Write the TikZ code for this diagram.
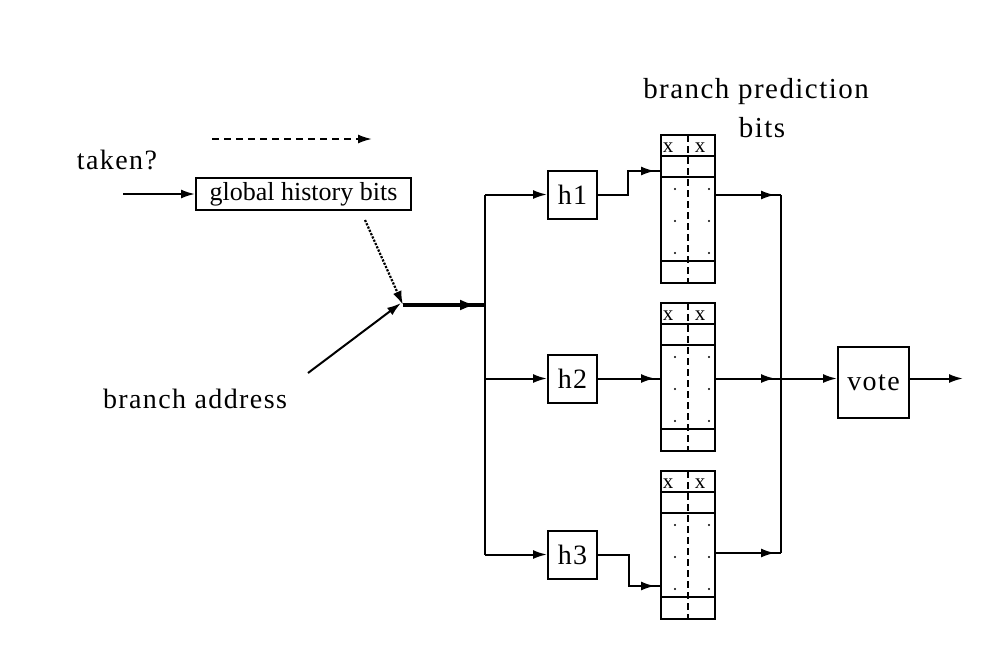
\documentclass[tikz,border=0pt]{standalone}
\usepackage{fontspec}
\setmainfont{Liberation Serif}
\newfontfamily\wide[LetterSpace=5]{Liberation Serif}
\usetikzlibrary{arrows.meta,decorations.markings}
\begin{document}
\begin{tikzpicture}[x=1pt,y=-1pt,
  ln/.style={line width=2pt},
  tipend/.style={-{Latex[length=14pt,width=9pt]}},
  midarr/.style={postaction={decorate},decoration={markings,
     mark=at position #1 with {\arrow{Latex[length=14pt,width=9pt]}}}},
  thickarr/.style={postaction={decorate},decoration={markings,
     mark=at position #1 with {\arrow{Latex[length=16pt,width=11pt]}}}},
  box/.style={draw,line width=2pt,inner sep=0pt},
  lbl/.style={inner sep=0pt,anchor=base,font=\wide\fontsize{28}{28}\selectfont},
  xlbl/.style={inner sep=0pt,anchor=base,font=\fontsize{21}{21}\selectfont},
]
\useasboundingbox (0,0) rectangle (1004,656);
\fill[white] (0,0) rectangle (1004,656);

% texts
\node[lbl] (taken) at (117,169) {taken?};
\node[lbl] (baddr) at (195,408) {branch address};
\node[lbl,font=\wide\fontsize{29}{29}\selectfont] (bp1) at (756,98) {branch prediction};
\node[lbl,font=\wide\fontsize{29}{29}\selectfont] (bp2) at (762,137) {bits};

% global history
\node[box,minimum width=215pt,minimum height=32pt] (ghb) at (303.5,194)
  {\fontsize{26}{26}\selectfont global history bits};
\coordinate (tin) at (123,194);
\draw[ln,tipend] (tin) -- (ghb.west);
\coordinate (ds) at (212,139);
\coordinate (de) at (372,139);
\draw[ln,tipend,dash pattern=on 7pt off 5pt] (ds) -- (de);

% junction
\coordinate (j) at (403,305);
\coordinate (gs) at (365,220);
\coordinate (bs) at (308,373);
\draw[line width=2.2pt,tipend,dash pattern=on 2.2pt off 1.4pt] (gs) -- (j);
\draw[ln,tipend] (bs) -- ([xshift=-2pt,yshift=2pt]j);
\coordinate (bus) at (485,305);
\draw[line width=3.5pt,thickarr=-9pt] (j) -- (bus);

% hash boxes
\foreach \i/\y in {1/194.5,2/378.5,3/554.5}{
  \node[box,minimum width=49pt,minimum height=48pt,font=\wide\fontsize{28}{28}\selectfont] (h\i) at (572.5,\y) {h\i};
}
\coordinate (bt) at (485,194.5);
\coordinate (bb) at (485,554.5);
\draw[ln] (bt) -- (bb);
\draw[ln,tipend] (bt) -- (h1.west);
\draw[ln,tipend] (485,378.5) -- (h2.west);
\draw[ln,tipend] (bb) -- (h3.west);

% tables
\foreach \i/\T in {1/135,2/303,3/471}{
  \node[box,minimum width=54pt,minimum height=148pt] (t\i) at (688,\T+74) {};
  \draw[ln] (661,\T+21) -- (715,\T+21);
  \draw[ln] (661,\T+42) -- (715,\T+42);
  \draw[ln] (661,\T+126) -- (715,\T+126);
  \draw[line width=2pt,dash pattern=on 7pt off 4pt] (688,\T) -- (688,\T+148);
  \node[xlbl] at (668,\T+17) {x};
  \node[xlbl] at (700,\T+17) {x};
  \foreach \dy in {54,86,118}{
    \fill (675,\T+\dy) circle (1.1pt);
    \fill (709,\T+\dy) circle (1.1pt);
  }
}

% hash -> table
\coordinate (t1in) at (661,171);
\coordinate (t2in) at (661,378.5);
\coordinate (t3in) at (661,586);
\draw[ln,midarr=-6pt] (h1.east) -- (628,194.5) |- (t1in);
\draw[ln,midarr=-6pt] (h2.east) -- (t2in);
\draw[ln,midarr=-6pt] (h3.east) -- (629,554.5) |- (t3in);

% table -> vote bus
\coordinate (vt) at (781,195);
\coordinate (vm) at (781,378.5);
\coordinate (vb) at (781,553);
\draw[ln] (vt) -- (vb);
\draw[ln,midarr=-6pt] (715,195) -- (vt);
\draw[ln,midarr=-6pt] (715,378.5) -- (vm);
\draw[ln,midarr=-6pt] (715,553) -- (vb);

% vote
\node[box,minimum width=71pt,minimum height=71pt,font=\wide\fontsize{28}{28}\selectfont] (vote) at (873.5,382.5) {vote};
\coordinate (vin) at (781,378.5);
\draw[ln,tipend] (vin) -- (vote.west |- vin);
\coordinate (vout) at (963,378.5);
\draw[ln,tipend] (vote.east |- vout) -- (vout);
\end{tikzpicture}
\end{document}
